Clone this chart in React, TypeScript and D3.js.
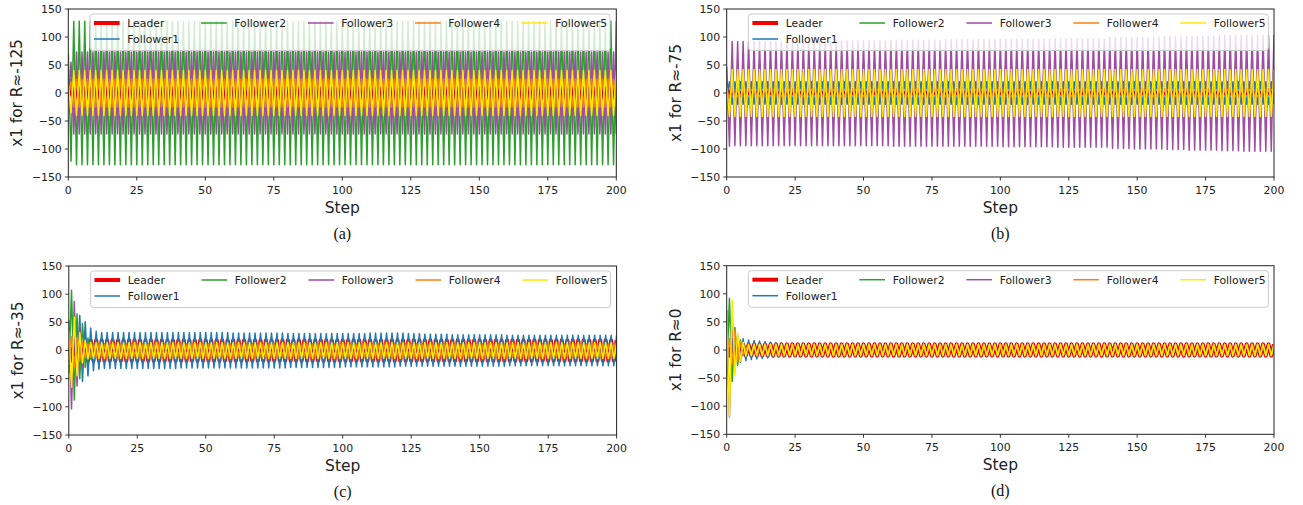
import React from "react";
import * as d3 from "d3";

// ---------- axis ticks ----------
const xTicks = [0, 25, 50, 75, 100, 125, 150, 175, 200];
const yTicks = [-150, -100, -50, 0, 50, 100, 150];
const seriesNames = ["Leader", "Follower1", "Follower2", "Follower3", "Follower4", "Follower5"];

// ---------- (a) R≈-125 ----------
const aLeader = [
-5,15,-20,20,-20,20,-20,20,-20,20,-20,20,-20,20,-20,20,-20,20,-20,20,
-20,20,-20,20,-20,20,-20,20,-20,20,-20,20,-20,20,-20,20,-20,20,-20,20,
-20,20,-20,20,-20,20,-20,20,-20,20,-20,20,-20,20,-20,20,-20,20,-20,20,
-20,20,-20,20,-20,20,-20,20,-20,20,-20,20,-20,20,-20,20,-20,20,-20,20,
-20,20,-20,20,-20,20,-20,20,-20,20,-20,20,-20,20,-20,20,-20,20,-20,20,
-20,20,-20,20,-20,20,-20,20,-20,20,-20,20,-20,20,-20,20,-20,20,-20,20,
-20,20,-20,20,-20,20,-20,20,-20,20,-20,20,-20,20,-20,20,-20,20,-20,20,
-20,20,-20,20,-20,20,-20,20,-20,20,-20,20,-20,20,-20,20,-20,20,-20,20,
-20,20,-20,20,-20,20,-20,20,-20,20,-20,20,-20,20,-20,20,-20,20,-20,20,
-20,20,-20,20,-20,20,-20,20,-20,20,-20,20,-20,20,-20,20,-20,20,-20,20,
-20];
const aF1 = [
-10,25,-30,30,-30,30,-30,30,-30,30,-30,30,-30,30,-30,30,-30,30,-30,30,
-30,30,-30,30,-30,30,-30,30,-30,30,-30,30,-30,30,-30,30,-30,30,-30,30,
-30,30,-30,30,-30,30,-30,30,-30,30,-30,30,-30,30,-30,30,-30,30,-30,30,
-30,30,-30,30,-30,30,-30,30,-30,30,-30,30,-30,30,-30,30,-30,30,-30,30,
-30,30,-30,30,-30,30,-30,30,-30,30,-30,30,-30,30,-30,30,-30,30,-30,30,
-30,30,-30,30,-30,30,-30,30,-30,30,-30,30,-30,30,-30,30,-30,30,-30,30,
-30,30,-30,30,-30,30,-30,30,-30,30,-30,30,-30,30,-30,30,-30,30,-30,30,
-30,30,-30,30,-30,30,-30,30,-30,30,-30,30,-30,30,-30,30,-30,30,-30,30,
-30,30,-30,30,-30,30,-30,30,-30,30,-30,30,-30,30,-30,30,-30,30,-30,30,
-30,30,-30,30,-30,30,-30,30,-30,30,-30,30,-30,30,-30,30,-30,30,-30,30,
-30];
const aF2 = [
70,-122,128,-128,128,-128,128,-128,128,-128,128,-128,128,-128,128,-128,128,-128,128,-128,
128,-128,128,-128,128,-128,128,-128,128,-128,128,-128,128,-128,128,-128,128,-128,128,-128,
128,-128,128,-128,128,-128,128,-128,128,-128,128,-128,128,-128,128,-128,128,-128,128,-128,
128,-128,128,-128,128,-128,128,-128,128,-128,128,-128,128,-128,128,-128,128,-128,128,-128,
128,-128,128,-128,128,-128,128,-128,128,-128,128,-128,128,-128,128,-128,128,-128,128,-128,
128,-128,128,-128,128,-128,128,-128,128,-128,128,-128,128,-128,128,-128,128,-128,128,-128,
128,-128,128,-128,128,-128,128,-128,128,-128,128,-128,128,-128,128,-128,128,-128,128,-128,
128,-128,128,-128,128,-128,128,-128,128,-128,128,-128,128,-128,128,-128,128,-128,128,-128,
128,-128,128,-128,128,-128,128,-128,128,-128,128,-128,128,-128,128,-128,128,-128,128,-128,
128,-128,128,-128,128,-128,128,-128,128,-128,128,-128,128,-128,128,-128,128,-128,128,-128,
128];
const aF3 = [
-15,55,-73,73,-73,73,-73,73,-73,73,-73,73,-73,73,-73,73,-73,73,-73,73,
-73,73,-73,73,-73,73,-73,73,-73,73,-73,73,-73,73,-73,73,-73,73,-73,73,
-73,73,-73,73,-73,73,-73,73,-73,73,-73,73,-73,73,-73,73,-73,73,-73,73,
-73,73,-73,73,-73,73,-73,73,-73,73,-73,73,-73,73,-73,73,-73,73,-73,73,
-73,73,-73,73,-73,73,-73,73,-73,73,-73,73,-73,73,-73,73,-73,73,-73,73,
-73,73,-73,73,-73,73,-73,73,-73,73,-73,73,-73,73,-73,73,-73,73,-73,73,
-73,73,-73,73,-73,73,-73,73,-73,73,-73,73,-73,73,-73,73,-73,73,-73,73,
-73,73,-73,73,-73,73,-73,73,-73,73,-73,73,-73,73,-73,73,-73,73,-73,73,
-73,73,-73,73,-73,73,-73,73,-73,73,-73,73,-73,73,-73,73,-73,73,-73,73,
-73,73,-73,73,-73,73,-73,73,-73,73,-73,73,-73,73,-73,73,-73,73,-73,73,
-73];
const aF4 = [
-8,20,-25,25,-25,25,-25,25,-25,25,-25,25,-25,25,-25,25,-25,25,-25,25,
-25,25,-25,25,-25,25,-25,25,-25,25,-25,25,-25,25,-25,25,-25,25,-25,25,
-25,25,-25,25,-25,25,-25,25,-25,25,-25,25,-25,25,-25,25,-25,25,-25,25,
-25,25,-25,25,-25,25,-25,25,-25,25,-25,25,-25,25,-25,25,-25,25,-25,25,
-25,25,-25,25,-25,25,-25,25,-25,25,-25,25,-25,25,-25,25,-25,25,-25,25,
-25,25,-25,25,-25,25,-25,25,-25,25,-25,25,-25,25,-25,25,-25,25,-25,25,
-25,25,-25,25,-25,25,-25,25,-25,25,-25,25,-25,25,-25,25,-25,25,-25,25,
-25,25,-25,25,-25,25,-25,25,-25,25,-25,25,-25,25,-25,25,-25,25,-25,25,
-25,25,-25,25,-25,25,-25,25,-25,25,-25,25,-25,25,-25,25,-25,25,-25,25,
-25,25,-25,25,-25,25,-25,25,-25,25,-25,25,-25,25,-25,25,-25,25,-25,25,
-25];
const aF5 = [
15,-35,40,-40,40,-40,40,-40,40,-40,40,-40,40,-40,40,-40,40,-40,40,-40,
40,-40,40,-40,40,-40,40,-40,40,-40,40,-40,40,-40,40,-40,40,-40,40,-40,
40,-40,40,-40,40,-40,40,-40,40,-40,40,-40,40,-40,40,-40,40,-40,40,-40,
40,-40,40,-40,40,-40,40,-40,40,-40,40,-40,40,-40,40,-40,40,-40,40,-40,
40,-40,40,-40,40,-40,40,-40,40,-40,40,-40,40,-40,40,-40,40,-40,40,-40,
40,-40,40,-40,40,-40,40,-40,40,-40,40,-40,40,-40,40,-40,40,-40,40,-40,
40,-40,40,-40,40,-40,40,-40,40,-40,40,-40,40,-40,40,-40,40,-40,40,-40,
40,-40,40,-40,40,-40,40,-40,40,-40,40,-40,40,-40,40,-40,40,-40,40,-40,
40,-40,40,-40,40,-40,40,-40,40,-40,40,-40,40,-40,40,-40,40,-40,40,-40,
40,-40,40,-40,40,-40,40,-40,40,-40,40,-40,40,-40,40,-40,40,-40,40,-40,
40];

// ---------- (b) R≈-75 ----------
const bLeader = [
10,-6,5,-5,5,-5,5,-5,5,-5,5,-5,5,-5,5,-5,5,-5,5,-5,
5,-5,5,-5,5,-5,5,-5,5,-5,5,-5,5,-5,5,-5,5,-5,5,-5,
5,-5,5,-5,5,-5,5,-5,5,-5,5,-5,5,-5,5,-5,5,-5,5,-5,
5,-5,5,-5,5,-5,5,-5,5,-5,5,-5,5,-5,5,-5,5,-5,5,-5,
5,-5,5,-5,5,-5,5,-5,5,-5,5,-5,5,-5,5,-5,5,-5,5,-5,
5,-5,5,-5,5,-5,5,-5,5,-5,5,-5,5,-5,5,-5,5,-5,5,-5,
5,-5,5,-5,5,-5,5,-5,5,-5,5,-5,5,-5,5,-5,5,-5,5,-5,
5,-5,5,-5,5,-5,5,-5,5,-5,5,-5,5,-5,5,-5,5,-5,5,-5,
5,-5,5,-5,5,-5,5,-5,5,-5,5,-5,5,-5,5,-5,5,-5,5,-5,
5,-5,5,-5,5,-5,5,-5,5,-5,5,-5,5,-5,5,-5,5,-5,5,-5,
5];
const bF1 = [
-5,20,-20,20,-20,20,-20,20,-20,20,-20,20,-20,20,-20,20,-20,20,-20,20,
-20,20,-20,20,-20,20,-20,20,-20,20,-20,20,-20,20,-20,20,-20,20,-20,20,
-20,20,-20,20,-20,20,-20,20,-20,20,-20,20,-20,20,-20,20,-20,20,-20,20,
-20,20,-20,20,-20,20,-20,20,-20,20,-20,20,-20,20,-20,20,-20,20,-20,20,
-20,20,-20,20,-20,20,-20,20,-20,20,-20,20,-20,20,-20,20,-20,20,-20,20,
-20,20,-20,20,-20,20,-20,20,-20,20,-20,20,-20,20,-20,20,-20,20,-20,20,
-20,20,-20,20,-20,20,-20,20,-20,20,-20,20,-20,20,-20,20,-20,20,-20,20,
-20,20,-20,20,-20,20,-20,20,-20,20,-20,20,-20,20,-20,20,-20,20,-20,20,
-20,20,-20,20,-20,20,-20,20,-20,20,-20,20,-20,20,-20,20,-20,20,-20,20,
-20,20,-20,20,-20,20,-20,20,-20,20,-20,20,-20,20,-20,20,-20,20,-20,20,
-20];
const bF2 = [
10,-52,52,-52,52,-52,52,-52,52,-52,52,-52,52,-52,52,-52,52,-52,52,-52,
52,-52,52,-52,52,-52,52,-52,52,-52,52,-52,52,-52,52,-52,52,-52,52,-52,
52,-52,52,-52,52,-52,52,-52,52,-52,52,-52,52,-52,52,-52,52,-52,52,-52,
52,-52,52,-52,52,-52,52,-52,52,-52,52,-52,52,-52,52,-52,52,-52,52,-52,
52,-52,52,-52,52,-52,52,-52,52,-52,52,-52,52,-52,52,-52,52,-52,52,-52,
52,-52,52,-52,52,-52,52,-52,52,-52,52,-52,52,-52,52,-52,52,-52,52,-52,
52,-52,52,-52,52,-52,52,-52,52,-52,52,-52,52,-52,52,-52,52,-52,52,-52,
52,-52,52,-52,52,-52,52,-52,52,-52,52,-52,52,-52,52,-52,52,-52,52,-52,
52,-52,52,-52,52,-52,52,-52,52,-52,52,-52,52,-52,52,-52,52,-52,52,-52,
52,-52,52,-52,52,-52,52,-52,52,-52,52,-52,52,-52,52,-52,52,-52,52,-52,
52];
const bF3 = [
47,-95,92,-94,92,-94,92,-94,92,-94,92,-94,92,-94,92,-94,92,-94,92,-94,
92,-94,92,-94,92,-94,92,-94,92,-94,92,-94,92,-94,92,-94,92,-94,92,-94,
93,-94,93,-94,93,-94,93,-94,93,-94,93,-94,93,-94,93,-94,93,-94,93,-94,
94,-95,94,-95,94,-95,94,-95,94,-95,94,-95,94,-95,94,-95,94,-95,94,-95,
95,-95,95,-95,95,-95,95,-95,95,-95,95,-95,95,-95,95,-95,95,-95,95,-95,
96,-96,96,-96,96,-96,96,-96,96,-96,96,-96,96,-96,96,-96,96,-96,96,-96,
97,-97,97,-97,97,-97,97,-97,97,-97,97,-97,97,-97,97,-97,97,-97,97,-97,
99,-99,99,-99,99,-99,99,-99,99,-100,99,-100,99,-100,99,-100,99,-100,99,-100,
101,-101,101,-101,101,-101,101,-101,101,-102,101,-102,101,-102,101,-102,101,-102,101,-102,
103,-103,103,-103,103,-103,103,-103,103,-104,103,-104,103,-104,103,-104,103,-104,103,-104,
104];
const bF4 = [
5,-8,8,-8,8,-8,8,-8,8,-8,8,-8,8,-8,8,-8,8,-8,8,-8,
8,-8,8,-8,8,-8,8,-8,8,-8,8,-8,8,-8,8,-8,8,-8,8,-8,
8,-8,8,-8,8,-8,8,-8,8,-8,8,-8,8,-8,8,-8,8,-8,8,-8,
8,-8,8,-8,8,-8,8,-8,8,-8,8,-8,8,-8,8,-8,8,-8,8,-8,
8,-8,8,-8,8,-8,8,-8,8,-8,8,-8,8,-8,8,-8,8,-8,8,-8,
8,-8,8,-8,8,-8,8,-8,8,-8,8,-8,8,-8,8,-8,8,-8,8,-8,
8,-8,8,-8,8,-8,8,-8,8,-8,8,-8,8,-8,8,-8,8,-8,8,-8,
8,-8,8,-8,8,-8,8,-8,8,-8,8,-8,8,-8,8,-8,8,-8,8,-8,
8,-8,8,-8,8,-8,8,-8,8,-8,8,-8,8,-8,8,-8,8,-8,8,-8,
8,-8,8,-8,8,-8,8,-8,8,-8,8,-8,8,-8,8,-8,8,-8,8,-8,
8];
const bF5 = [
10,-42,42,-42,42,-42,42,-42,42,-42,42,-42,42,-42,42,-42,42,-42,42,-42,
42,-42,42,-42,42,-42,42,-42,42,-42,42,-42,42,-42,42,-42,42,-42,42,-42,
42,-42,42,-42,42,-42,42,-42,42,-42,42,-42,42,-42,42,-42,42,-42,42,-42,
42,-42,42,-42,42,-42,42,-42,42,-42,42,-42,42,-42,42,-42,42,-42,42,-42,
42,-42,42,-42,42,-42,42,-42,42,-42,42,-42,42,-42,42,-42,42,-42,42,-42,
42,-42,42,-42,42,-42,42,-42,42,-42,42,-42,42,-42,42,-42,42,-42,42,-42,
42,-42,42,-42,42,-42,42,-42,42,-42,42,-42,42,-42,42,-42,42,-42,42,-42,
42,-42,42,-42,42,-42,42,-42,42,-42,42,-42,42,-42,42,-42,42,-42,42,-42,
42,-42,42,-42,42,-42,42,-42,42,-42,42,-42,42,-42,42,-42,42,-42,42,-42,
42,-42,42,-42,42,-42,42,-42,42,-42,42,-42,42,-42,42,-42,42,-42,42,-42,
42];

// ---------- (c) R≈-35 ----------
const cLeader = [
5,-18,18,-18,18,-18,18,-18,18,-18,18,-18,18,-18,18,-18,18,-18,18,-18,
18,-18,18,-18,18,-18,18,-18,18,-18,18,-18,18,-18,18,-18,18,-18,18,-18,
18,-18,18,-18,18,-18,18,-18,18,-18,18,-18,18,-18,18,-18,18,-18,18,-18,
18,-18,18,-18,18,-18,18,-18,18,-18,18,-18,18,-18,18,-18,18,-18,18,-18,
18,-18,18,-18,18,-18,18,-18,18,-18,18,-18,18,-18,18,-18,18,-18,18,-18,
18,-18,18,-18,18,-18,18,-18,18,-18,18,-18,18,-18,18,-18,18,-18,18,-18,
18,-18,18,-18,18,-18,18,-18,18,-18,18,-18,18,-18,18,-18,18,-18,18,-18,
18,-18,18,-18,18,-18,18,-18,18,-18,18,-18,18,-18,18,-18,18,-18,18,-18,
18,-18,18,-18,18,-18,18,-18,18,-18,18,-18,18,-18,18,-18,18,-18,18,-18,
18,-18,18,-18,18,-18,18,-18,18,-18,18,-18,18,-18,18,-18,18,-18,18,-18,
18];
const cF1 = [
5,-10,25,-40,62,-55,51,-45,40,-36,34,-33,32,-32,32,-32,32,-32,32,-32,
32,-32,32,-32,32,-32,32,-32,32,-32,32,-32,32,-32,32,-32,32,-32,32,-32,
32,-31,32,-31,32,-31,32,-31,32,-31,32,-31,32,-31,32,-31,32,-31,32,-31,
31,-31,31,-31,31,-31,31,-31,31,-31,31,-31,31,-31,31,-31,31,-31,31,-31,
30,-30,30,-30,30,-30,30,-30,30,-30,30,-30,30,-30,30,-30,30,-30,30,-30,
30,-29,30,-29,30,-29,30,-29,30,-29,31,-29,31,-29,31,-29,31,-29,31,-29,
31,-28,31,-28,30,-28,30,-28,30,-28,29,-28,29,-28,29,-28,29,-28,29,-28,
28,-28,28,-28,28,-28,28,-28,28,-28,28,-28,28,-28,28,-28,28,-28,28,-28,
27,-27,27,-27,27,-27,27,-27,27,-27,27,-27,27,-27,27,-27,27,-27,27,-27,
27,-27,27,-27,27,-27,27,-27,27,-27,27,-27,27,-27,27,-27,27,-27,27,-27,
27];
const cF2 = [
-40,107,-88,65,-50,48,-30,22,-15,12,-10,9,-8,8,-8,8,-8,8,-8,8,
-8,8,-8,8,-8,8,-8,8,-8,8,-8,8,-8,8,-8,8,-8,8,-8,8,
-8,8,-8,8,-8,8,-8,8,-8,8,-8,8,-8,8,-8,8,-8,8,-8,8,
-8,8,-8,8,-8,8,-8,8,-8,8,-8,8,-8,8,-8,8,-8,8,-8,8,
-8,8,-8,8,-8,8,-8,8,-8,8,-8,8,-8,8,-8,8,-8,8,-8,8,
-8,8,-8,8,-8,8,-8,8,-8,8,-8,8,-8,8,-8,8,-8,8,-8,8,
-8,8,-8,8,-8,8,-8,8,-8,8,-8,8,-8,8,-8,8,-8,8,-8,8,
-8,8,-8,8,-8,8,-8,8,-8,8,-8,8,-8,8,-8,8,-8,8,-8,8,
-8,8,-8,8,-8,8,-8,8,-8,8,-8,8,-8,8,-8,8,-8,8,-8,8,
-8,8,-8,8,-8,8,-8,8,-8,8,-8,8,-8,8,-8,8,-8,8,-8,8,
-8];
const cF3 = [
54,-104,87,-63,45,-30,20,-14,12,-11,10,-10,10,-10,10,-10,10,-10,10,-10,
10,-10,10,-10,10,-10,10,-10,10,-10,10,-10,10,-10,10,-10,10,-10,10,-10,
10,-10,10,-10,10,-10,10,-10,10,-10,10,-10,10,-10,10,-10,10,-10,10,-10,
10,-10,10,-10,10,-10,10,-10,10,-10,10,-10,10,-10,10,-10,10,-10,10,-10,
10,-10,10,-10,10,-10,10,-10,10,-10,10,-10,10,-10,10,-10,10,-10,10,-10,
10,-10,10,-10,10,-10,10,-10,10,-10,10,-10,10,-10,10,-10,10,-10,10,-10,
10,-10,10,-10,10,-10,10,-10,10,-10,10,-10,10,-10,10,-10,10,-10,10,-10,
10,-10,10,-10,10,-10,10,-10,10,-10,10,-10,10,-10,10,-10,10,-10,10,-10,
10,-10,10,-10,10,-10,10,-10,10,-10,10,-10,10,-10,10,-10,10,-10,10,-10,
10,-10,10,-10,10,-10,10,-10,10,-10,10,-10,10,-10,10,-10,10,-10,10,-10,
10];
const cF4 = [
-15,25,-30,22,-18,15,-13,12,-12,12,-12,12,-12,12,-12,12,-12,12,-12,12,
-12,12,-12,12,-12,12,-12,12,-12,12,-12,12,-12,12,-12,12,-12,12,-12,12,
-12,12,-12,12,-12,12,-12,12,-12,12,-12,12,-12,12,-12,12,-12,12,-12,12,
-12,12,-12,12,-12,12,-12,12,-12,12,-12,12,-12,12,-12,12,-12,12,-12,12,
-12,12,-12,12,-12,12,-12,12,-12,12,-12,12,-12,12,-12,12,-12,12,-12,12,
-12,12,-12,12,-12,12,-12,12,-12,12,-12,12,-12,12,-12,12,-12,12,-12,12,
-12,12,-12,12,-12,12,-12,12,-12,12,-12,12,-12,12,-12,12,-12,12,-12,12,
-12,12,-12,12,-12,12,-12,12,-12,12,-12,12,-12,12,-12,12,-12,12,-12,12,
-12,12,-12,12,-12,12,-12,12,-12,12,-12,12,-12,12,-12,12,-12,12,-12,12,
-12,12,-12,12,-12,12,-12,12,-12,12,-12,12,-12,12,-12,12,-12,12,-12,12,
-12];
const cF5 = [
35,-65,59,-45,32,-22,18,-15,14,-14,14,-14,14,-14,14,-14,14,-14,14,-14,
14,-14,14,-14,14,-14,14,-14,14,-14,14,-14,14,-14,14,-14,14,-14,14,-14,
14,-14,14,-14,14,-14,14,-14,14,-14,14,-14,14,-14,14,-14,14,-14,14,-14,
14,-14,14,-14,14,-14,14,-14,14,-14,14,-14,14,-14,14,-14,14,-14,14,-14,
14,-14,14,-14,14,-14,14,-14,14,-14,14,-14,14,-14,14,-14,14,-14,14,-14,
14,-14,14,-14,14,-14,14,-14,14,-14,14,-14,14,-14,14,-14,14,-14,14,-14,
14,-14,14,-14,14,-14,14,-14,14,-14,14,-14,14,-14,14,-14,14,-14,14,-14,
14,-14,14,-14,14,-14,14,-14,14,-14,14,-14,14,-14,14,-14,14,-14,14,-14,
14,-14,14,-14,14,-14,14,-14,14,-14,14,-14,14,-14,14,-14,14,-14,14,-14,
14,-14,14,-14,14,-14,14,-14,14,-14,14,-14,14,-14,14,-14,14,-14,14,-14,
14];

// ---------- (d) R≈0 ----------
const dLeader = [
10,-10,10,-10,10,-10,10,-10,10,-10,10,-10,10,-10,10,-10,10,-10,10,-10,
10,-10,10,-10,10,-10,10,-10,10,-10,10,-10,10,-10,10,-10,10,-10,10,-10,
10,-10,10,-10,10,-10,10,-10,10,-10,10,-10,10,-10,10,-10,10,-10,10,-10,
10,-10,10,-10,10,-10,10,-10,10,-10,10,-10,10,-10,10,-10,10,-10,10,-10,
10,-10,10,-10,10,-10,10,-10,10,-10,10,-10,10,-10,10,-10,10,-10,10,-10,
10,-10,10,-10,10,-10,10,-10,10,-10,10,-10,10,-10,10,-10,10,-10,10,-10,
10,-10,10,-10,10,-10,10,-10,10,-10,10,-10,10,-10,10,-10,10,-10,10,-10,
10,-10,10,-10,10,-10,10,-10,10,-10,10,-10,10,-10,10,-10,10,-10,10,-10,
10,-10,10,-10,10,-10,10,-10,10,-10,10,-10,10,-10,10,-10,10,-10,10,-10,
10,-10,10,-10,10,-10,10,-10,10,-10,10,-10,10,-10,10,-10,10,-10,10,-10,
10];
const dF1 = [
5,-10,20,-25,25,-22,20,-19,18,-17,17,-16,16,-15,15,-14,14,-13,13,-12,
12,-11,11,-10,10,-10,10,-10,10,-10,10,-10,10,-10,10,-10,10,-10,10,-10,
10,-10,10,-10,10,-10,10,-10,10,-10,10,-10,10,-10,10,-10,10,-10,10,-10,
10,-10,10,-10,10,-10,10,-10,10,-10,10,-10,10,-10,10,-10,10,-10,10,-10,
10,-10,10,-10,10,-10,10,-10,10,-10,10,-10,10,-10,10,-10,10,-10,10,-10,
10,-10,10,-10,10,-10,10,-10,10,-10,10,-10,10,-10,10,-10,10,-10,10,-10,
10,-10,10,-10,10,-10,10,-10,10,-10,10,-10,10,-10,10,-10,10,-10,10,-10,
10,-10,10,-10,10,-10,10,-10,10,-10,10,-10,10,-10,10,-10,10,-10,10,-10,
10,-10,10,-10,10,-10,10,-10,10,-10,10,-10,10,-10,10,-10,10,-10,10,-10,
10,-10,10,-10,10,-10,10,-10,10,-10,10,-10,10,-10,10,-10,10,-10,10,-10,
10];
const dF2 = [
-45,92,-56,40,-27,18,-10,5,2,-6,9,-10,10,-10,10,-10,10,-10,10,-10,
10,-10,10,-10,10,-10,10,-10,10,-10,10,-10,10,-10,10,-10,10,-10,10,-10,
10,-10,10,-10,10,-10,10,-10,10,-10,10,-10,10,-10,10,-10,10,-10,10,-10,
10,-10,10,-10,10,-10,10,-10,10,-10,10,-10,10,-10,10,-10,10,-10,10,-10,
10,-10,10,-10,10,-10,10,-10,10,-10,10,-10,10,-10,10,-10,10,-10,10,-10,
10,-10,10,-10,10,-10,10,-10,10,-10,10,-10,10,-10,10,-10,10,-10,10,-10,
10,-10,10,-10,10,-10,10,-10,10,-10,10,-10,10,-10,10,-10,10,-10,10,-10,
10,-10,10,-10,10,-10,10,-10,10,-10,10,-10,10,-10,10,-10,10,-10,10,-10,
10,-10,10,-10,10,-10,10,-10,10,-10,10,-10,10,-10,10,-10,10,-10,10,-10,
10,-10,10,-10,10,-10,10,-10,10,-10,10,-10,10,-10,10,-10,10,-10,10,-10,
10];
const dF3 = [
71,-119,60,-30,18,-12,10,-10,10,-10,10,-10,10,-10,10,-10,10,-10,10,-10,
10,-10,10,-10,10,-10,10,-10,10,-10,10,-10,10,-10,10,-10,10,-10,10,-10,
10,-10,10,-10,10,-10,10,-10,10,-10,10,-10,10,-10,10,-10,10,-10,10,-10,
10,-10,10,-10,10,-10,10,-10,10,-10,10,-10,10,-10,10,-10,10,-10,10,-10,
10,-10,10,-10,10,-10,10,-10,10,-10,10,-10,10,-10,10,-10,10,-10,10,-10,
10,-10,10,-10,10,-10,10,-10,10,-10,10,-10,10,-10,10,-10,10,-10,10,-10,
10,-10,10,-10,10,-10,10,-10,10,-10,10,-10,10,-10,10,-10,10,-10,10,-10,
10,-10,10,-10,10,-10,10,-10,10,-10,10,-10,10,-10,10,-10,10,-10,10,-10,
10,-10,10,-10,10,-10,10,-10,10,-10,10,-10,10,-10,10,-10,10,-10,10,-10,
10,-10,10,-10,10,-10,10,-10,10,-10,10,-10,10,-10,10,-10,10,-10,10,-10,
10];
const dF4 = [
-15,20,-25,35,-21,15,-9,4,3,-7,9,-10,10,-10,10,-10,10,-10,10,-10,
10,-10,10,-10,10,-10,10,-10,10,-10,10,-10,10,-10,10,-10,10,-10,10,-10,
10,-10,10,-10,10,-10,10,-10,10,-10,10,-10,10,-10,10,-10,10,-10,10,-10,
10,-10,10,-10,10,-10,10,-10,10,-10,10,-10,10,-10,10,-10,10,-10,10,-10,
10,-10,10,-10,10,-10,10,-10,10,-10,10,-10,10,-10,10,-10,10,-10,10,-10,
10,-10,10,-10,10,-10,10,-10,10,-10,10,-10,10,-10,10,-10,10,-10,10,-10,
10,-10,10,-10,10,-10,10,-10,10,-10,10,-10,10,-10,10,-10,10,-10,10,-10,
10,-10,10,-10,10,-10,10,-10,10,-10,10,-10,10,-10,10,-10,10,-10,10,-10,
10,-10,10,-10,10,-10,10,-10,10,-10,10,-10,10,-10,10,-10,10,-10,10,-10,
10,-10,10,-10,10,-10,10,-10,10,-10,10,-10,10,-10,10,-10,10,-10,10,-10,
10];
const dF5 = [
65,-118,88,-45,30,-20,14,-11,10,-10,10,-10,10,-10,10,-10,10,-10,10,-10,
10,-10,10,-10,10,-10,10,-10,10,-10,10,-10,10,-10,10,-10,10,-10,10,-10,
10,-10,10,-10,10,-10,10,-10,10,-10,10,-10,10,-10,10,-10,10,-10,10,-10,
10,-10,10,-10,10,-10,10,-10,10,-10,10,-10,10,-10,10,-10,10,-10,10,-10,
10,-10,10,-10,10,-10,10,-10,10,-10,10,-10,10,-10,10,-10,10,-10,10,-10,
10,-10,10,-10,10,-10,10,-10,10,-10,10,-10,10,-10,10,-10,10,-10,10,-10,
10,-10,10,-10,10,-10,10,-10,10,-10,10,-10,10,-10,10,-10,10,-10,10,-10,
10,-10,10,-10,10,-10,10,-10,10,-10,10,-10,10,-10,10,-10,10,-10,10,-10,
10,-10,10,-10,10,-10,10,-10,10,-10,10,-10,10,-10,10,-10,10,-10,10,-10,
10,-10,10,-10,10,-10,10,-10,10,-10,10,-10,10,-10,10,-10,10,-10,10,-10,
10];

// ---------- styles / layout (not data) ----------
const seriesColors = ["#f00000", "#1f77b4", "#2ca02c", "#a04ca4", "#ff7f0e", "#ffea00"];
const seriesWidths = [4, 1.5, 1.5, 1.5, 1.5, 1.5];
const legendSlots = [[0, 0], [0, 1], [1, 0], [2, 0], [3, 0], [4, 0]];

const panels = [
  { id: "a", caption: "(a)", ylabel: "x1 for R\u2248-125", series: [aLeader, aF1, aF2, aF3, aF4, aF5], left: 68.3, right: 616.3, top: 9, bottom: 177 },
  { id: "b", caption: "(b)", ylabel: "x1 for R\u2248-75", series: [bLeader, bF1, bF2, bF3, bF4, bF5], left: 726.7, right: 1274, top: 9, bottom: 177 },
  { id: "c", caption: "(c)", ylabel: "x1 for R\u2248-35", series: [cLeader, cF1, cF2, cF3, cF4, cF5], left: 68.8, right: 616.6, top: 266, bottom: 435 },
  { id: "d", caption: "(d)", ylabel: "x1 for R\u22480", series: [dLeader, dF1, dF2, dF3, dF4, dF5], left: 726.7, right: 1274, top: 265.7, bottom: 434.3 },
];

const SANS = "'DejaVu Sans', Verdana, sans-serif";
const SERIF = "'Liberation Serif', 'Times New Roman', serif";
const TXT = "#222";

function fmt(v: number) {
  return v < 0 ? "\u2212" + Math.abs(v) : String(v);
}

function Panel({ p }: { p: typeof panels[number] }) {
  const x = d3.scaleLinear().domain([0, 200]).range([p.left, p.right]);
  const y = d3.scaleLinear().domain([-150, 150]).range([p.bottom, p.top]);
  const line = d3
    .line<number>()
    .x((_, i) => x(i))
    .y((d) => y(d));
  const cx = (p.left + p.right) / 2;
  const cy = (p.top + p.bottom) / 2;
  const L = p.left + 21.7;
  const T = p.top + 5;
  const colW = 107;
  return (
    <g>
      <defs>
        <clipPath id={"clip-" + p.id}>
          <rect x={p.left} y={p.top} width={p.right - p.left} height={p.bottom - p.top} />
        </clipPath>
      </defs>
      <g clipPath={`url(#clip-${p.id})`}>
        {p.series.map((s, k) => (
          <path
            key={k}
            d={line(s) || ""}
            fill="none"
            stroke={seriesColors[k]}
            strokeWidth={seriesWidths[k]}
            strokeLinejoin="round"
            strokeLinecap="butt"
          />
        ))}
      </g>
      {/* spines */}
      <rect x={p.left} y={p.top} width={p.right - p.left} height={p.bottom - p.top} fill="none" stroke="#222" strokeWidth={1} />
      {/* x ticks */}
      {xTicks.map((t) => (
        <g key={"x" + t}>
          <line x1={x(t)} x2={x(t)} y1={p.bottom} y2={p.bottom + 3.5} stroke="#222" strokeWidth={0.9} />
          <text x={x(t)} y={p.bottom + 16.5} textAnchor="middle" fontFamily={SANS} fontSize={10.9} fill={TXT}>
            {fmt(t)}
          </text>
        </g>
      ))}
      {/* y ticks */}
      {yTicks.map((t) => (
        <g key={"y" + t}>
          <line x1={p.left - 3.5} x2={p.left} y1={y(t)} y2={y(t)} stroke="#222" strokeWidth={0.9} />
          <text x={p.left - 6.5} y={y(t) + 3.9} textAnchor="end" fontFamily={SANS} fontSize={10.9} fill={TXT}>
            {fmt(t)}
          </text>
        </g>
      ))}
      {/* axis labels */}
      <text x={cx} y={p.bottom + 36} textAnchor="middle" fontFamily={SANS} fontSize={15.5} fill={TXT}>
        Step
      </text>
      <text
        transform={`translate(${p.left - 46},${cy}) rotate(-90)`}
        textAnchor="middle"
        fontFamily={SANS}
        fontSize={15.3}
        fill={TXT}
      >
        {p.ylabel}
      </text>
      <text x={cx} y={p.bottom + 61.5} textAnchor="middle" fontFamily={SERIF} fontSize={16} fill="#111">
        {p.caption}
      </text>
      {/* legend */}
      <rect x={L} y={T} width={520} height={36.5} rx={3} ry={3} fill="#fff" fillOpacity={0.8} stroke="#ccc" strokeWidth={1} />
      {seriesNames.map((name, k) => {
        const [col, row] = legendSlots[k];
        const hx = L + 4 + col * colW;
        const hy = T + 9 + row * 16;
        return (
          <g key={name}>
            <line x1={hx} x2={hx + 25.6} y1={hy} y2={hy} stroke={seriesColors[k]} strokeWidth={seriesWidths[k]} />
            <text x={hx + 33.3} y={hy + 3.8} fontFamily={SANS} fontSize={10.8} fill={TXT}>
              {name}
            </text>
          </g>
        );
      })}
    </g>
  );
}

export default function App() {
  return (
    <svg
      width={1303}
      height={505}
      viewBox="0 0 1303 505"
      style={{ position: "absolute", left: 0, top: 0, display: "block", background: "#fff" }}
    >
      <rect x={0} y={0} width={1303} height={505} fill="#fff" />
      {panels.map((p) => (
        <Panel key={p.id} p={p} />
      ))}
    </svg>
  );
}
